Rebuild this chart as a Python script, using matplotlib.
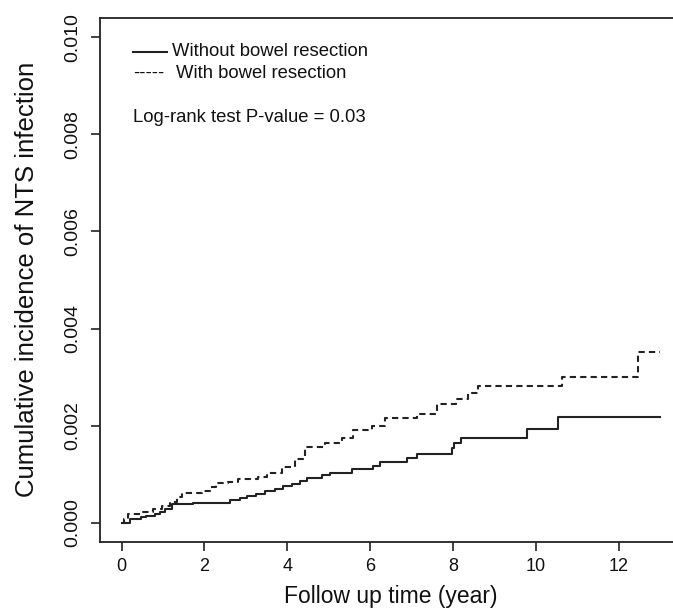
import matplotlib
matplotlib.use("Agg")
import matplotlib.pyplot as plt
from matplotlib.lines import Line2D

plt.rcParams['font.family'] = ['Liberation Sans', 'DejaVu Sans']

# cumulative incidence, without bowel resection (solid)
t_without = [0, 0.2, 0.48, 0.6, 0.8, 0.93, 1.05, 1.21, 1.73, 2.62, 2.86, 3.02,
             3.24, 3.45, 3.7, 3.9, 4.1, 4.3, 4.47, 4.83, 5.03, 5.55, 6.07, 6.23,
             6.89, 7.13, 7.96, 8.02, 8.2, 9.77, 10.54, 13]
ci_without = [0, 0.00007, 0.00011, 0.00014, 0.00018, 0.00022, 0.00029, 0.00038,
              0.00041, 0.00046, 0.00051, 0.00055, 0.00059, 0.00066, 0.0007,
              0.00075, 0.0008, 0.00086, 0.00091, 0.00098, 0.00103, 0.0011,
              0.00117, 0.00124, 0.00133, 0.00141, 0.00153, 0.00164, 0.00174,
              0.00193, 0.00217, 0.00217]

# cumulative incidence, with bowel resection (dashed)
t_with = [0, 0.05, 0.15, 0.52, 0.77, 0.97, 1.17, 1.33, 1.45, 1.93, 2.13, 2.29,
          2.57, 2.82, 3.3, 3.5, 3.86, 4.18, 4.42, 4.91, 5.31, 5.59, 6.03, 6.35,
          7.13, 7.6, 8.07, 8.36, 8.61, 10.62, 12.47, 13]
ci_with = [0, 0.00008, 0.00017, 0.00022, 0.00029, 0.00034, 0.00043, 0.00052,
           0.0006, 0.00066, 0.00073, 0.00081, 0.00084, 0.00089, 0.00095,
           0.00103, 0.00114, 0.00131, 0.00155, 0.00165, 0.00174, 0.00191,
           0.00199, 0.00215, 0.00224, 0.00244, 0.00255, 0.00267, 0.00281,
           0.003, 0.00352, 0.00352]

x_ticks = [0, 2, 4, 6, 8, 10, 12]
y_ticks = [0.000, 0.002, 0.004, 0.006, 0.008, 0.010]

W, H = 673, 613
fig = plt.figure(figsize=(W / 100, H / 100), dpi=100)

def fx(px):
    return px / W

def fy(py):
    return 1 - py / H

# axes box: left 100px, bottom 542px, top 18px, right edge cut off the image
ax = fig.add_axes([fx(100), fy(542), fx(682) - fx(100), fy(18) - fy(542)])

col = '#222222'
ax.step(t_without, ci_without, where='post', color=col, lw=1.5)
ax.step(t_with, ci_with, where='post', color=col, lw=1.5, dashes=(3, 2))

ax.set_xlim(-0.52, 13.52)
ax.set_ylim(-0.0004, 0.0104)
ax.set_xticks(x_ticks)
ax.set_xticklabels([str(v) for v in x_ticks])
ax.set_yticks(y_ticks)
ax.set_yticklabels(['%.3f' % v for v in y_ticks], rotation=90, va='center')

for s in ax.spines.values():
    s.set_color(col)
    s.set_linewidth(1.3)
ax.tick_params(direction='out', length=6.5, width=1.2, color=col,
               labelcolor='#111111')
ax.tick_params(axis='x', pad=5, labelsize=13)
# the source image is a bit taller than wide, so vertical text runs longer
ax.tick_params(axis='y', pad=7, labelsize=14)

fig.text(fx(391), fy(597), 'Follow up time (year)', ha='center', va='center',
         fontsize=16.5, color='#111111')
fig.text(fx(27), fy(279), 'Cumulative incidence of NTS infection', ha='center',
         va='center', rotation=90, fontsize=18.5, color='#111111')

# legend drawn by hand, R style
fig.add_artist(Line2D([fx(133), fx(167)], [fy(52), fy(52)], color=col, lw=1.5))
fig.text(fx(172), fy(52), 'Without bowel resection', ha='left', va='center',
         fontsize=13.3, color='#111111')
fig.text(fx(133), fy(73), '-----', ha='left', va='center',
         fontsize=13.3, color='#111111')
fig.text(fx(176), fy(73), 'With bowel resection', ha='left', va='center',
         fontsize=13.3, color='#111111')
fig.text(fx(133), fy(118), 'Log-rank test P-value = 0.03', ha='left',
         va='center', fontsize=13.3, color='#111111')

fig.savefig('out.png', dpi=100)
